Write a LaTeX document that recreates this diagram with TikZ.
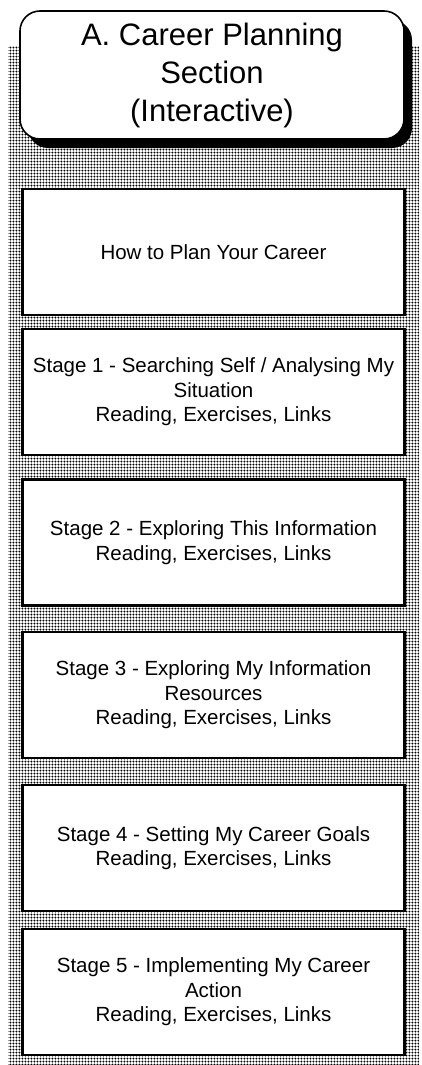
\documentclass[tikz,border=0pt]{standalone}
\usepackage{fontspec}
\setmainfont{Liberation Sans}
\usetikzlibrary{patterns}
\usetikzlibrary{shadows}
\pgfdeclarepatternformonly{screen}{\pgfpointorigin}{\pgfpoint{3.4pt}{3.4pt}}{\pgfpoint{3.4pt}{3.4pt}}{%
  \pgfpathcircle{\pgfpoint{1.7pt}{1.7pt}}{1.25pt}\pgfusepath{fill}}
\tikzstyle{screened}=[pattern=screen,pattern color=black]
\tikzstyle{titlebox}=[draw,line width=1.6pt,fill=white,rounded corners=20pt,
  minimum width=384pt,minimum height=128pt,align=center,
  font=\fontsize{31}{38}\selectfont,
  drop shadow={shadow xshift=8pt,shadow yshift=-9pt,fill=black,opacity=1}]
\tikzstyle{stagebox}=[draw,line width=2.4pt,fill=white,
  minimum width=382pt,minimum height=126pt,align=center,
  font=\fontsize{20.5}{24.5}\selectfont,
  drop shadow={shadow xshift=1.2pt,shadow yshift=-1.2pt,fill=black,opacity=1}]

\begin{document}
\begin{tikzpicture}[x=1pt,y=-1pt]
	\useasboundingbox (0,0) rectangle (421,1065);
	\fill[screened] (8,47) rectangle (419,1065);
	\node[titlebox] (T) at (212,75) {A. Career Planning\\Section\\(Interactive)};
	\node[stagebox] (H)  at (213.5,252)   {How to Plan Your Career};
	\node[stagebox] (S1) at (213.5,392)   {Stage 1 - Searching Self / Analysing My\\Situation\\Reading, Exercises, Links};
	\node[stagebox] (S2) at (213.5,542.5) {Stage 2 - Exploring This Information\\Reading, Exercises, Links};
	\node[stagebox] (S3) at (213.5,695)   {Stage 3 - Exploring My Information\\Resources\\Reading, Exercises, Links};
	\node[stagebox] (S4) at (213.5,848)   {Stage 4 - Setting My Career Goals\\Reading, Exercises, Links};
	\node[stagebox] (S5) at (213.5,992)   {Stage 5 - Implementing My Career\\Action\\Reading, Exercises, Links};
\end{tikzpicture}
\end{document}
